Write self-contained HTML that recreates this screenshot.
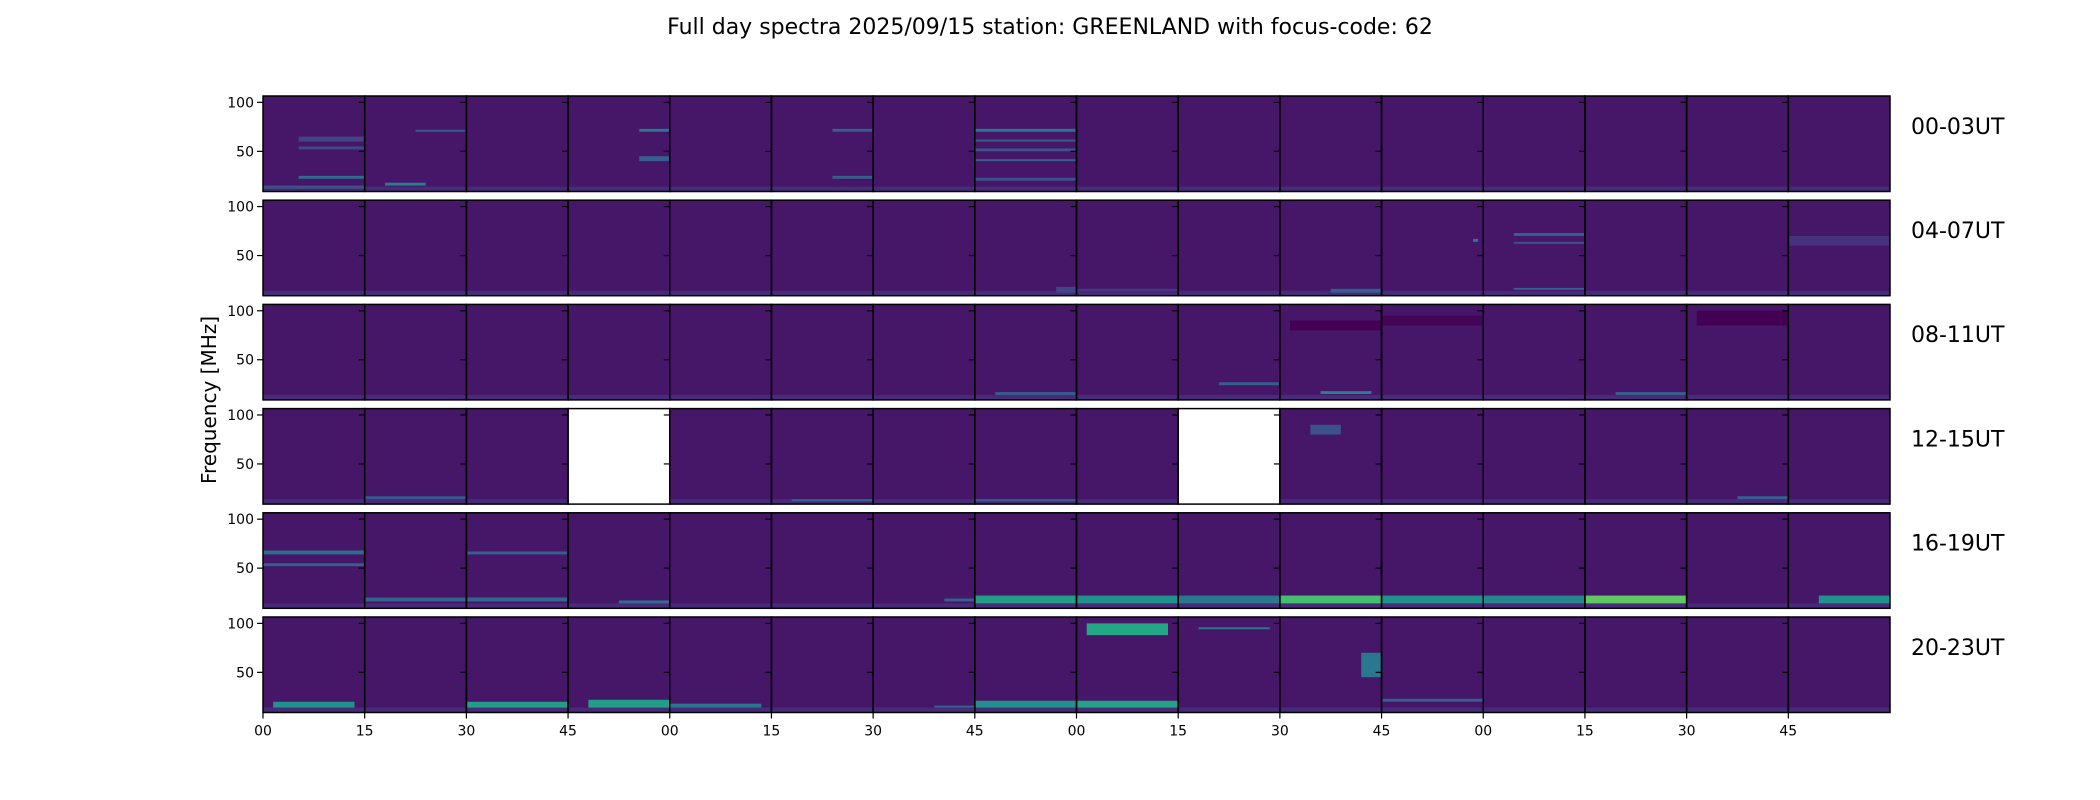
<!DOCTYPE html>
<html><head><meta charset="utf-8">
<style>
html,body{margin:0;padding:0;background:#fff;}
svg{display:block;font-family:"DejaVu Sans","Liberation Sans",sans-serif;}
</style></head>
<body>
<svg id="chart" width="2100" height="800" viewBox="0 0 2100 800">
<text x="1050" y="34" text-anchor="middle" font-size="22">Full day spectra 2025/09/15 station: GREENLAND with focus-code: 62</text>
<text transform="translate(216,400) rotate(-90)" text-anchor="middle" font-size="20">Frequency [MHz]</text>
<g id="plots"></g>
</svg>
<script>
const rowLabels = ["00-03UT","04-07UT","08-11UT","12-15UT","16-19UT","20-23UT"];
const xTickLabels = ["00","15","30","45","00","15","30","45","00","15","30","45","00","15","30","45"];
const yTickValues = [100, 50];
const missingPanels = [[3,3],[3,9]];
// bands: row, panel, freqLow, freqHigh, intensity(0-1), startFrac, endFrac
const bandRow = [0,0,0,0,0,0,0,0,0,0,0,0,0,0,0, 1,1,1,1,1,1,1,1, 2,2,2,2,2,2,2, 3,3,3,3,3, 4,4,4,4,4,4,4,4,4,4,4,4,4,4,4, 5,5,5,5,5,5,5,5,5,5,5];
const bandPanel = [0,0,0,0,1,1,3,3,5,5,7,7,7,7,7, 7,8,10,11,12,12,12,15, 10,10,11,14,13,9,7, 10,5,7,1,14, 0,0,1,2,2,6,7,8,9,10,11,12,13,15,3, 0,2,3,4,7,8,8,9,10,6,11];
const bandLow = [60,52,22,12,70,15,70,40,70,22,70,60,50,40,20, 12,14,12,64,70,62,15,60, 80,15,85,85,14,24,14, 80,12,12,14,14, 64,52,16,64,16,16,14,14,14,14,14,14,14,14,14, 14,14,14,14,14,14,88,94,45,14,20];
const bandHigh= [65,55,25,15,72,18,73,45,73,25,73,62,53,42,23, 18,16,16,67,73,64,17,70, 90,18,95,100,17,27,17, 90,14,14,17,17, 68,55,20,67,20,19,22,22,22,22,22,22,22,22,17, 20,20,22,18,21,21,100,96,70,16,23];
const bandVal = [0.2,0.22,0.35,0.25,0.28,0.42,0.4,0.3,0.3,0.3,0.38,0.3,0.25,0.3,0.25, 0.2,0.18,0.3,0.4,0.3,0.25,0.3,0.14, 0.0,0.42,0.01,0.0,0.3,0.3,0.28, 0.25,0.35,0.3,0.28,0.3, 0.35,0.3,0.32,0.3,0.33,0.3,0.55,0.5,0.4,0.7,0.5,0.45,0.75,0.5,0.35, 0.5,0.55,0.55,0.4,0.5,0.58,0.6,0.4,0.4,0.3,0.3];
const bandStart=[0.35,0.35,0.35,0,0.5,0.2,0.7,0.7,0.6,0.6,0,0,0,0,0, 0.8,0,0.5,0.9,0.3,0.3,0.3,0, 0.1,0.4,0,0.1,0.3,0.4,0.2, 0.3,0.2,0,0,0.5, 0,0,0,0,0,0.7,0,0,0,0,0,0,0,0.3,0.5, 0.1,0,0.2,0,0,0,0.1,0.2,0.8,0.6,0];
const bandEnd = [1,1,1,1,1,0.6,1,1,1,1,1,1,1,1,1, 1,1,1,0.95,1,1,1,1, 1,0.9,1,1,1,1,1, 0.6,1,1,1,1, 1,1,1,1,1,1,1,1,1,1,1,1,1,1,1, 0.9,1,1,0.9,1,1,0.9,0.9,1,1,1];

const X0=263, X1=1890, NP=16, PW=(X1-X0)/NP;
const ROW_TOP=96, ROW_PITCH=104.2, RH=95.5;
const FMAX=106.5, FMIN=9;
const stops=["#440154","#482475","#414487","#355f8d","#2a788e","#21918c","#22a884","#44bf70","#7ad151","#bddf26","#fde725"];
function viridis(v){v=Math.max(0,Math.min(1,v));const i=Math.min(9,Math.floor(v*10));const t=v*10-i;
 const a=stops[i],b=stops[i+1];const c=k=>Math.round(parseInt(a.substr(k,2),16)*(1-t)+parseInt(b.substr(k,2),16)*t);
 return `rgb(${c(1)},${c(3)},${c(5)})`;}
function yScale(r,f){return ROW_TOP+r*ROW_PITCH+(FMAX-f)/(FMAX-FMIN)*RH;}
function xScale(p,frac){return X0+p*PW+frac*PW;}
const NS="http://www.w3.org/2000/svg";
const g=document.getElementById('plots');
function mk(tag,attrs,parent){const e=document.createElementNS(NS,tag);for(const k in attrs)e.setAttribute(k,attrs[k]);(parent||g).appendChild(e);return e;}
for(let r=0;r<6;r++){
  const rowG=mk('g',{});
  
  
  const top=yScale(r,FMAX), bot=yScale(r,FMIN);
  for(let p=0;p<NP;p++){
    const missing=missingPanels.some(m=>m[0]===r&&m[1]===p);
    const bg=mk('rect',{x:xScale(p,0),y:top,width:PW,height:bot-top,fill:missing?'#ffffff':viridis(0.06)},rowG);
    
    
    if(!missing){
      const lo=mk('rect',{x:xScale(p,0),y:yScale(r,14),width:PW,height:yScale(r,FMIN)-yScale(r,14),fill:viridis(0.12)},rowG);
      
      
    }
  }
  for(let i=0;i<bandRow.length;i++){
    if(bandRow[i]!==r)continue;
    const p=bandPanel[i];
    const b=mk('rect',{x:xScale(p,bandStart[i]),y:yScale(r,bandHigh[i]),width:(bandEnd[i]-bandStart[i])*PW,height:yScale(r,bandLow[i])-yScale(r,bandHigh[i]),fill:viridis(bandVal[i])},rowG);
    
    
  }
  for(let p=0;p<NP;p++){
    const fr=mk('rect',{x:xScale(p,0),y:top,width:PW,height:bot-top,fill:'none',stroke:'#000','stroke-width':1.5},rowG);
    
    
    for(const v of yTickValues){
      const y=yScale(r,v);
      mk('line',{x1:xScale(p,0)-6,x2:xScale(p,0),y1:y,y2:y,stroke:'#000','stroke-width':1.2},rowG);
    }
  }
  for(const v of yTickValues){
    const t=mk('text',{x:X0-9,y:yScale(r,v)+5,'text-anchor':'end','font-size':14},rowG);
    t.textContent=v;
    
    
  }
  const rl=mk('text',{x:1911,y:(top+bot)/2-10,'font-size':22},rowG);
  rl.textContent=rowLabels[r];
  
  
}
const botY=yScale(5,FMIN);
for(let p=0;p<NP;p++){
  const x=xScale(p,0);
  mk('line',{x1:x,x2:x,y1:botY,y2:botY+6,stroke:'#000','stroke-width':1.2});
  const t=mk('text',{x:x,y:botY+23,'text-anchor':'middle','font-size':14});
  t.textContent=xTickLabels[p];
  
  
}
</script>
</body></html>
